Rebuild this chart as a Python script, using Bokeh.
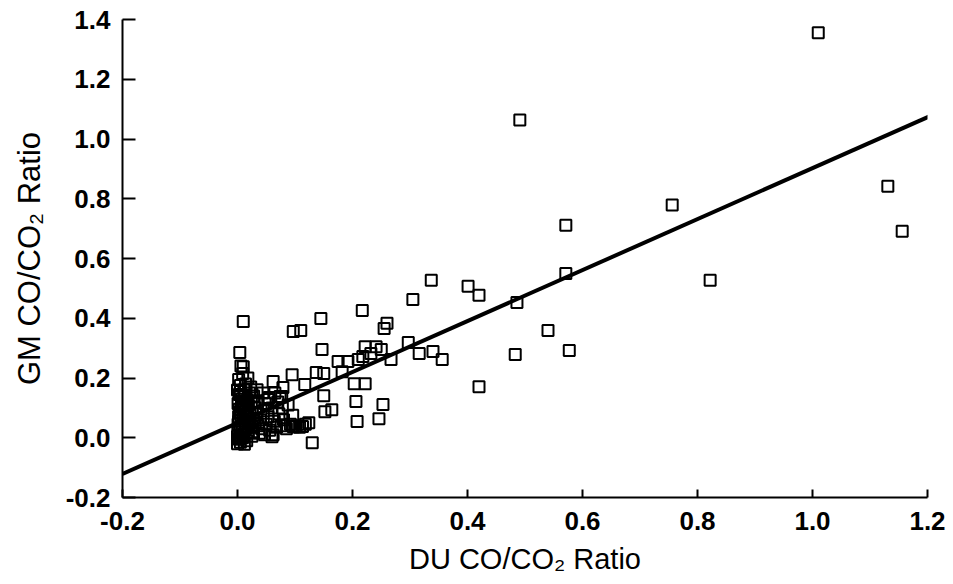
from bokeh.plotting import figure
from bokeh.models import Range1d, FixedTicker, PrintfTickFormatter, ColumnDataSource
from bokeh.embed import file_html
from bokeh.resources import INLINE

# --- data ---
du_outer = [1.010, 0.491, 1.131, 1.156, 0.756, 0.571, 0.571, 0.822, 0.337, 0.401,
            0.420, 0.305, 0.486, 0.217, 0.145, 0.260, 0.255, 0.097, 0.110, 0.540,
            0.147, 0.222, 0.241, 0.250, 0.297, 0.316, 0.340, 0.356, 0.267, 0.218,
            0.232, 0.483, 0.577, 0.175, 0.192, 0.210, 0.182, 0.095, 0.137, 0.150,
            0.062, 0.117, 0.203, 0.222, 0.420, 0.150, 0.077, 0.206, 0.253, 0.152,
            0.164, 0.246, 0.208, 0.124, 0.100, 0.130, 0.060, 0.010, 0.004, 0.010,
            0.079, 0.034, 0.053, 0.074, 0.034, 0.097, 0.062]
gm_outer = [1.356, 1.064, 0.842, 0.691, 0.779, 0.711, 0.550, 0.527, 0.527, 0.507,
            0.477, 0.463, 0.453, 0.426, 0.399, 0.383, 0.366, 0.356, 0.359, 0.359,
            0.295, 0.305, 0.305, 0.295, 0.319, 0.282, 0.289, 0.262, 0.262, 0.272,
            0.282, 0.279, 0.292, 0.255, 0.255, 0.262, 0.221, 0.211, 0.218, 0.215,
            0.188, 0.178, 0.181, 0.181, 0.171, 0.141, 0.138, 0.121, 0.111, 0.087,
            0.094, 0.064, 0.054, 0.050, 0.037, -0.017, 0.003, 0.389, 0.285, 0.238,
            0.168, 0.161, 0.128, 0.138, 0.117, 0.037, 0.010]

du_cluster = [0.000, 0.003, 0.006, 0.001, 0.008, 0.002, 0.010, 0.004, 0.012, 0.001,
              0.007, 0.003, 0.011, 0.005, 0.002, 0.009, 0.016, 0.018, 0.014, 0.020,
              0.017, 0.022, 0.015, 0.019, 0.024, 0.013, 0.021, 0.000, 0.005, 0.012,
              0.009, 0.025, 0.027, 0.026, 0.030, 0.028, 0.033, 0.031, 0.036, 0.038,
              0.040, 0.042, 0.045, 0.047, 0.050, 0.053, 0.056, 0.060, 0.064, 0.068,
              0.072, 0.076, 0.080, 0.085, 0.088, 0.092, 0.096, 0.102, 0.108, 0.113,
              0.118, 0.006, 0.014, 0.018, 0.023, 0.028, 0.035, 0.044, 0.048, 0.055,
              0.065, 0.070, 0.078,
              0.004, 0.011, 0.001, 0.013, 0.006, 0.016, 0.003, 0.010, 0.017, 0.005,
              0.008, 0.014, 0.002, 0.019, 0.007, 0.012, 0.000, 0.004]
gm_cluster = [-0.020, -0.005, 0.010, 0.025, 0.040, 0.055, 0.070, 0.085, 0.100, 0.115,
              0.130, 0.145, 0.160, 0.175, 0.195, 0.215, -0.010, 0.015, 0.030, 0.048,
              0.062, 0.078, 0.092, 0.108, 0.122, 0.138, 0.150, 0.005, -0.015, -0.022,
              0.000, 0.005, 0.020, 0.035, 0.050, 0.065, 0.082, 0.100, 0.040, 0.015,
              0.060, 0.030, 0.090, 0.010, 0.045, 0.070, 0.025, 0.100, 0.055, 0.035,
              0.080, 0.040, 0.060, 0.030, 0.110, 0.045, 0.075, 0.040, 0.035, 0.038,
              0.045, 0.240, 0.180, 0.200, 0.170, 0.140, 0.120, 0.150, 0.115, 0.135,
              0.150, 0.120, 0.100,
              0.000, 0.012, 0.045, 0.055, 0.065, 0.075, 0.095, 0.110, 0.125, 0.155,
              0.020, 0.085, 0.070, 0.035, 0.105, 0.140, 0.160, 0.030]

fit_du = [-0.2, 1.213]
fit_gm = [-0.121, 1.084]

x_ticks = [-0.2, 0.0, 0.2, 0.4, 0.6, 0.8, 1.0, 1.2]
y_ticks = [-0.2, 0.0, 0.2, 0.4, 0.6, 0.8, 1.0, 1.2, 1.4]

FONT = "Liberation Sans"

p = figure(width=953, height=584,
           x_range=Range1d(-0.2, 1.2), y_range=Range1d(-0.2, 1.4),
           output_backend="svg", toolbar_location=None,
           min_border_left=122, min_border_right=26,
           min_border_top=19, min_border_bottom=87)
p.outline_line_color = None
p.xgrid.visible = False
p.ygrid.visible = False
p.background_fill_color = "white"
p.border_fill_color = "white"

src = ColumnDataSource(dict(x=du_outer + du_cluster, y=gm_outer + gm_cluster))
p.scatter("x", "y", source=src, marker="square", size=11,
          fill_color=None, line_color="black", line_width=2)
p.line(fit_du, fit_gm, line_color="black", line_width=4)

for ax, ticks in ((p.xaxis[0], x_ticks), (p.yaxis[0], y_ticks)):
    ax.ticker = FixedTicker(ticks=ticks, minor_ticks=[])
    ax.formatter = PrintfTickFormatter(format="%.1f")
    ax.axis_line_color = "black"
    ax.axis_line_width = 2
    ax.major_tick_line_color = "black"
    ax.major_tick_line_width = 2
    ax.major_tick_out = 0
    ax.minor_tick_line_color = None
    ax.major_label_text_font = FONT
    ax.major_label_text_font_size = "26px"
    ax.major_label_text_font_style = "bold"
    ax.major_label_text_color = "black"
    ax.axis_label_text_font = FONT
    ax.axis_label_text_font_style = "normal"
    ax.axis_label_text_color = "black"

p.xaxis[0].axis_label_text_font_size = "29px"
p.yaxis[0].axis_label_text_font_size = "31px"
p.xaxis[0].major_tick_in = 8
p.yaxis[0].major_tick_in = 13
p.xaxis[0].major_label_standoff = 14
p.yaxis[0].major_label_standoff = 12
p.xaxis[0].axis_label = "DU CO/CO\u2082 Ratio"
p.yaxis[0].axis_label = "GM CO/CO\u2082 Ratio"
p.xaxis[0].axis_label_standoff = 10
p.yaxis[0].axis_label_standoff = 16

open("out.html", "w").write(file_html(p, INLINE))
